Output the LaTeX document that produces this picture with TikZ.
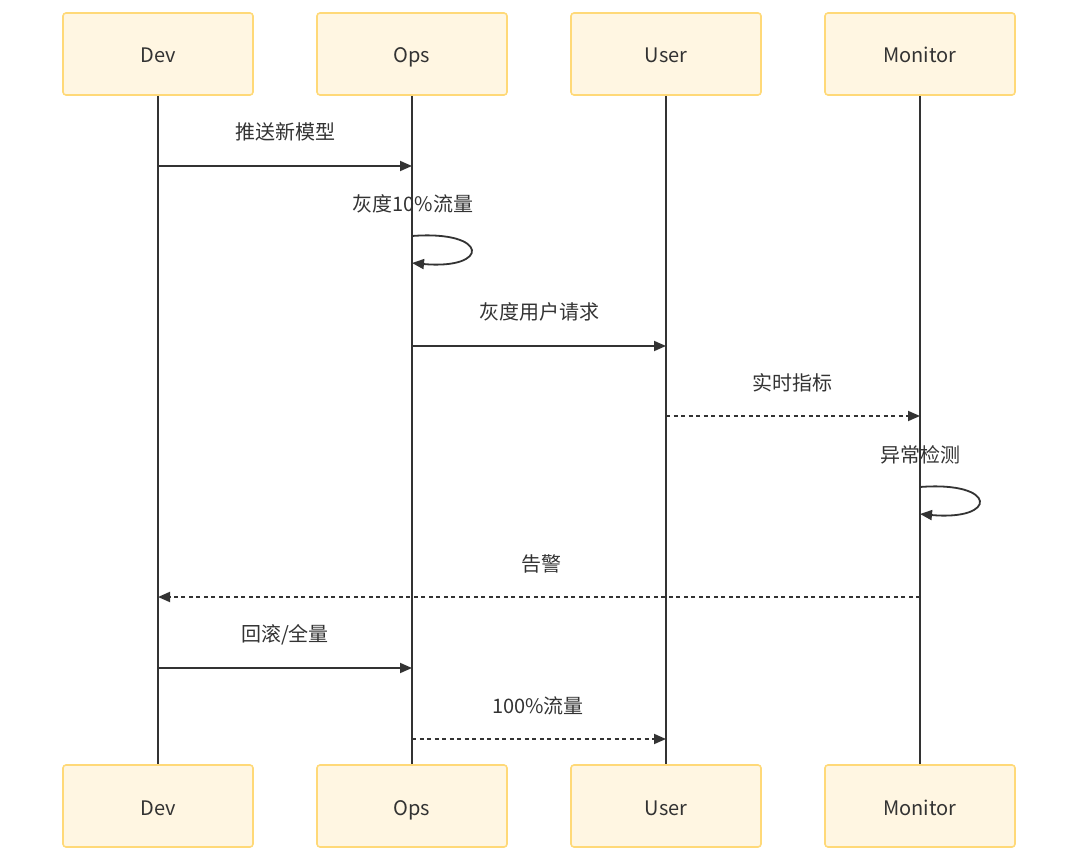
\documentclass[tikz,border=0pt]{standalone}
\usepackage{fontspec}
\setmainfont{Noto Sans CJK SC}
\usetikzlibrary{arrows.meta}
\definecolor{boxfill}{HTML}{FFF6E2}
\definecolor{boxdraw}{HTML}{FFD978}
\definecolor{ink}{HTML}{333333}
\tikzset{
  actor/.style={draw=boxdraw, fill=boxfill, line width=1.6pt, rounded corners=3pt,
    minimum width=190pt, minimum height=82pt, inner sep=0pt, text height=20pt, text depth=2pt,
    font=\fontsize{20}{23}\selectfont, text=ink},
  lifeline/.style={draw=ink, line width=2.3pt},
  msg/.style={draw=ink, line width=1.8pt, -{Triangle[length=12pt,width=10pt]}},
  reply/.style={msg, dash pattern=on 4pt off 3.5pt},
  lbl/.style={font=\fontsize{20}{23}\selectfont, text=ink, inner sep=0pt}
}
\begin{document}
\begin{tikzpicture}[x=1pt,y=-1pt]
\useasboundingbox (0,0) rectangle (1080,861);
% actors
\node[actor] (devT) at (158,54) {Dev};
\node[actor] (opsT) at (412,54) {Ops};
\node[actor] (userT) at (666,54) {User};
\node[actor] (monT) at (920,54) {Monitor};
\node[actor] (devB) at (158,806) {Dev};
\node[actor] (opsB) at (412,806) {Ops};
\node[actor] (userB) at (666,806) {User};
\node[actor] (monB) at (920,806) {Monitor};
% lifelines
\draw[lifeline] (devT.south) -- (devB.north);
\draw[lifeline] (opsT.south) -- (opsB.north);
\draw[lifeline] (userT.south) -- (userB.north);
\draw[lifeline] (monT.south) -- (monB.north);
% message anchor points
\coordinate (d1) at (158,166); \coordinate (o1) at (412,166);
\coordinate (o2a) at (412,236); \coordinate (o2b) at (412,263);
\coordinate (o3) at (412,346); \coordinate (u3) at (666,346);
\coordinate (u4) at (666,416); \coordinate (m4) at (920,416);
\coordinate (m5a) at (920,487); \coordinate (m5b) at (920,514);
\coordinate (m6) at (920,597); \coordinate (d6) at (158,597);
\coordinate (d7) at (158,668); \coordinate (o7) at (412,668);
\coordinate (o8) at (412,739); \coordinate (u8) at (666,739);
% messages
\draw[msg] (d1) -- (o1);
\node[lbl] (l1) at (285,132) {推送新模型};
\draw[msg] (o2a) .. controls (490,230) and (490,270) .. (o2b);
\node[lbl] (l2) at (413,204) {灰度10\%流量};
\draw[msg] (o3) -- (u3);
\node[lbl] (l3) at (539,312) {灰度用户请求};
\draw[reply] (u4) -- (m4);
\node[lbl] (l4) at (792,383) {实时指标};
\draw[msg] (m5a) .. controls (998,481) and (998,521) .. (m5b);
\node[lbl] (l5) at (920,455) {异常检测};
\draw[reply] (m6) -- (d6);
\node[lbl] (l6) at (541,564) {告警};
\draw[msg] (d7) -- (o7);
\node[lbl] (l7) at (285,635) {回滚/全量};
\draw[reply] (o8) -- (u8);
\node[lbl] (l8) at (538,706) {100\%流量};
\end{tikzpicture}
\end{document}
